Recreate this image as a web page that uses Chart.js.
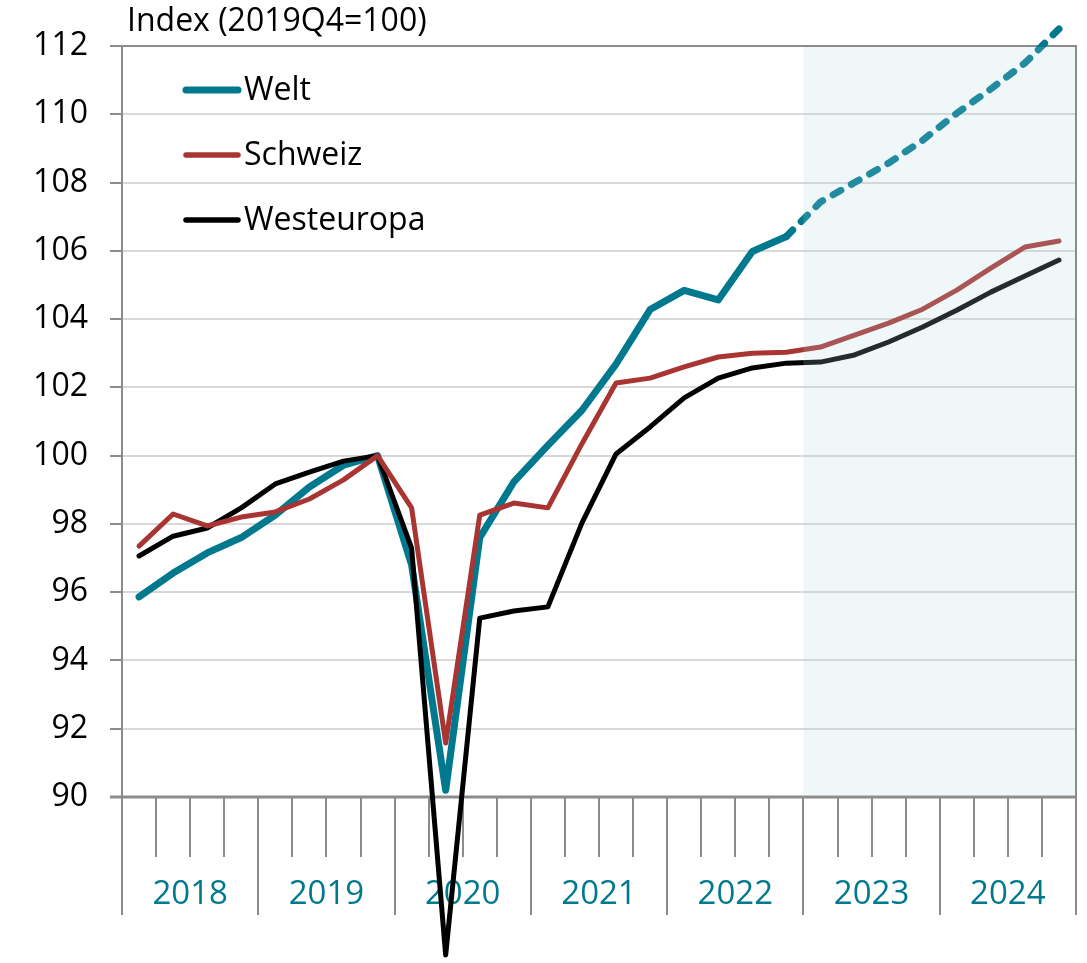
<!DOCTYPE html>
<html>
<head>
<meta charset="utf-8">
<script src="https://cdn.jsdelivr.net/npm/chart.js@4/dist/chart.umd.min.js"></script>
<style>
  html, body { margin: 0; padding: 0; background: #fff; }
  #wrap { width: 1087px; height: 963px; }
</style>
</head>
<body>
<div id="wrap"><canvas id="chart" width="1087" height="963"></canvas></div>
<script>
// Quartalswerte, 2018Q1 bis 2024Q4
const years = ['2018', '2019', '2020', '2021', '2022', '2023', '2024'];
const quarters = ['Q1', 'Q2', 'Q3', 'Q4'];
const categories = years.flatMap(y => quarters.map(q => y + q));

const welt = [95.86, 96.56, 97.15, 97.6, 98.26, 99.08, 99.72, 100.0,
    96.8, 90.2, 97.6, 99.23, 100.3, 101.33, 102.68, 104.28,
    104.84, 104.56, 105.98, 106.42, 107.43, 108.0, 108.57, 109.24,
    110.03, 110.74, 111.5, 112.5];
const schweiz = [97.35, 98.29, 97.94, 98.2, 98.35, 98.73, 99.29, 100.0,
    98.47, 91.58, 98.26, 98.61, 98.47, 100.35, 102.13, 102.27,
    102.6, 102.89, 103.0, 103.03, 103.18, 103.53, 103.88, 104.29,
    104.85, 105.49, 106.11, 106.29];
const westeuropa = [97.06, 97.64, 97.88, 98.47, 99.17, 99.52, 99.84, 100.0,
    97.29, 85.37, 95.24, 95.45, 95.57, 98.03, 100.05, 100.84,
    101.69, 102.27, 102.57, 102.71, 102.74, 102.95, 103.33, 103.77,
    104.26, 104.79, 105.26, 105.73];

const lastActualIndex = 19;      // ab hier Prognose (gestrichelt)
const forecastStartQuarter = 20; // 2023Q1, schattierter Bereich
const yTicks = { min: 90, max: 112, step: 2 };
const axisTitle = 'Index (2019Q4=100)';

const TEAL = '#00798f';
const RED = '#a83532';
const BLACK = '#000000';
const AXIS_GREY = '#8c8c8c';
const FONT = '"Open Sans", "DejaVu Sans", sans-serif';

const toPoints = values => values.map((v, i) => ({ x: i + 0.5, y: v }));

const legendItems = [
    { label: 'Welt', color: TEAL, width: 7 },
    { label: 'Schweiz', color: RED, width: 5.5 },
    { label: 'Westeuropa', color: BLACK, width: 5.5 }
];

const framePlugin = {
    id: 'frame',
    beforeDatasetsDraw(chart) {
        const { ctx, chartArea: area, scales: { x } } = chart;
        ctx.save();
        ctx.strokeStyle = AXIS_GREY;
        ctx.lineWidth = 2;
        // Rahmen oben und rechts
        ctx.beginPath();
        ctx.moveTo(area.left - 12, area.top);
        ctx.lineTo(area.right, area.top);
        ctx.lineTo(area.right, area.bottom);
        ctx.stroke();
        // x-Achse
        ctx.lineWidth = 3;
        ctx.beginPath();
        ctx.moveTo(area.left - 12, area.bottom);
        ctx.lineTo(area.right, area.bottom);
        ctx.stroke();
        // Quartals- und Jahresstriche
        ctx.lineWidth = 2;
        for (let k = 0; k <= categories.length; k++) {
            const px = Math.round(x.getPixelForValue(k));
            const len = k % quarters.length === 0 ? 118 : 60;
            ctx.beginPath();
            ctx.moveTo(px, area.bottom);
            ctx.lineTo(px, area.bottom + len);
            ctx.stroke();
        }
        // Jahresbeschriftung
        ctx.fillStyle = TEAL;
        ctx.font = '33px ' + FONT;
        ctx.textAlign = 'center';
        ctx.textBaseline = 'middle';
        years.forEach((year, i) => {
            const mid = x.getPixelForValue(i * quarters.length + quarters.length / 2);
            ctx.fillText(year, mid, area.bottom + 98);
        });
        ctx.restore();
    },
    afterDatasetsDraw(chart) {
        const { ctx, chartArea: area, scales: { x } } = chart;
        ctx.save();
        // Prognosebereich
        const xs = x.getPixelForValue(forecastStartQuarter);
        ctx.fillStyle = 'rgba(173, 213, 224, 0.2)';
        ctx.fillRect(xs, area.top + 1, area.right - xs - 1, area.bottom - area.top - 2);

        // Achsentitel
        ctx.fillStyle = '#000';
        ctx.font = '32px ' + FONT;
        ctx.textAlign = 'left';
        ctx.textBaseline = 'middle';
        ctx.fillText(axisTitle, area.left + 5, 22);

        // Legende
        ctx.font = '32px ' + FONT;
        legendItems.forEach((item, i) => {
            const ly = 90 + i * 65;
            ctx.strokeStyle = item.color;
            ctx.lineWidth = item.width;
            ctx.lineCap = 'round';
            ctx.beginPath();
            ctx.moveTo(186, ly);
            ctx.lineTo(238, ly);
            ctx.stroke();
            ctx.fillStyle = '#000';
            ctx.fillText(item.label, 244, ly + 1);
        });
        ctx.restore();
    }
};

new Chart(document.getElementById('chart'), {
    type: 'line',
    data: {
        datasets: [
            {
                label: 'Welt',
                data: toPoints(welt),
                borderColor: TEAL,
                borderWidth: 7,
                order: 2,
                segment: {
                    borderDash: ctx => ctx.p0DataIndex >= lastActualIndex ? [9, 12] : undefined
                }
            },
            {
                label: 'Schweiz',
                data: toPoints(schweiz),
                borderColor: RED,
                borderWidth: 5,
                order: 0
            },
            {
                label: 'Westeuropa',
                data: toPoints(westeuropa),
                borderColor: BLACK,
                borderWidth: 5,
                order: 1
            }
        ]
    },
    options: {
        responsive: false,
        animation: false,
        clip: false,
        layout: { padding: { top: 46, right: 11, bottom: 166, left: 0 } },
        elements: {
            point: { radius: 0 },
            line: { tension: 0, borderCapStyle: 'round', borderJoinStyle: 'round', fill: false }
        },
        plugins: {
            legend: { display: false },
            tooltip: { enabled: false }
        },
        scales: {
            x: {
                type: 'linear',
                display: false,
                min: 0,
                max: categories.length
            },
            y: {
                type: 'linear',
                min: yTicks.min,
                max: yTicks.max,
                afterFit: scale => { scale.width = 122; },
                border: { color: AXIS_GREY, width: 2 },
                grid: {
                    color: ctx => ctx.tick && ctx.tick.value === yTicks.max ? AXIS_GREY : '#d9d9d9',
                    lineWidth: 2,
                    tickLength: 12,
                    tickColor: AXIS_GREY
                },
                ticks: {
                    stepSize: yTicks.step,
                    color: '#000',
                    padding: 22,
                    font: { family: FONT, size: 32 }
                }
            }
        }
    },
    plugins: [framePlugin]
});
</script>
</body>
</html>
